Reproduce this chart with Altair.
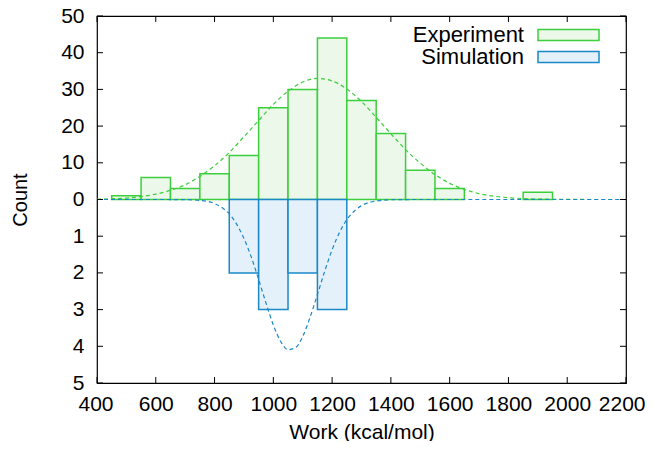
import altair as alt
import pandas as pd

# ---- data ----
exp_bin_start = [450, 550, 650, 750, 850, 950, 1050, 1150, 1250, 1350, 1450, 1550, 1850]
exp_counts = [1, 6, 3, 7, 12, 25, 30, 44, 27, 18, 8, 3, 2]

sim_bin_start = [850, 950, 1050, 1150]
sim_counts = [2, 3, 2, 3]
bin_width = 100

exp_fit_x = [400, 450, 500, 550, 600, 650, 700, 750, 800, 850, 900, 950, 1000, 1050,
             1100, 1150, 1200, 1250, 1300, 1350, 1400, 1450, 1500, 1550, 1600, 1650,
             1700, 1750, 1800, 1850, 1900, 1950, 2000, 2050, 2100, 2150, 2200]
exp_fit_y = [0.1, 0.2, 0.4, 0.8, 1.45, 2.5, 4.0, 6.3, 9.2, 12.8, 17.1, 21.5, 25.9, 29.5,
             32.0, 33.0, 32.3, 30.1, 26.7, 22.4, 17.9, 13.6, 9.9, 6.8, 4.4, 2.75,
             1.6, 0.9, 0.5, 0.25, 0.12, 0.05, 0.02, 0.01, 0.0, 0.0, 0.0]

sim_fit_x = [400, 500, 600, 700, 750, 800, 825, 850, 875, 900, 925, 950, 975, 1000,
             1025, 1050, 1075, 1100, 1125, 1150, 1175, 1200, 1225, 1250, 1275, 1300,
             1350, 1400, 1500, 1600, 1800, 2000, 2200]
sim_fit_y = [0.0, 0.0, 0.0, 0.004, 0.024, 0.11, 0.22, 0.39, 0.67, 1.06, 1.57, 2.18, 2.82, 3.42,
             3.87, 4.09, 4.04, 3.73, 3.21, 2.59, 1.95, 1.37, 0.90, 0.55, 0.32, 0.17,
             0.04, 0.007, 0.0, 0.0, 0.0, 0.0, 0.0]

x_ticks = [400, 600, 800, 1000, 1200, 1400, 1600, 1800, 2000, 2200]
y_ticks = [-5, -4, -3, -2, -1, 0, 1, 2, 3, 4, 5]  # top half = Experiment/10, bottom = Simulation

legend_labels = ["Experiment", "Simulation"]

# ---- styles ----
GREEN = "#3ccf3c"
GREEN_FILL = "#ebf8ea"
BLUE = "#1b88c8"
BLUE_FILL = "#e4f1fa"
FONT = "Liberation Sans"
FS = 22
W, H = 529, 367

exp_df = pd.DataFrame({"x0": exp_bin_start,
                       "x1": [s + bin_width for s in exp_bin_start],
                       "y": [c / 10 for c in exp_counts]})
sim_df = pd.DataFrame({"x0": sim_bin_start,
                       "x1": [s + bin_width for s in sim_bin_start],
                       "y": [-c for c in sim_counts]})
exp_fit = pd.DataFrame({"x": exp_fit_x, "y": [v / 10 for v in exp_fit_y]})
sim_fit = pd.DataFrame({"x": sim_fit_x, "y": [-v for v in sim_fit_y]})

xs = alt.Scale(domain=[400, 2200], nice=False, zero=False)
ys = alt.Scale(domain=[-5, 5], nice=False)

x_axis = alt.Axis(values=x_ticks, ticks=False, domain=False, grid=False, format="d",
                  labelFontSize=21, labelPadding=10, labelColor="#000", labelOverlap=False,
                  labelFlush=True, labelFlushOffset=19,
                  title="Work (kcal/mol)", titleFontSize=21, titleFontWeight="normal",
                  titlePadding=7, titleColor="#000")
y_axis = alt.Axis(values=y_ticks, ticks=False, domain=False, grid=False, labelOverlap=False,
                  labelExpr="datum.value >= 0 ? format(datum.value * 10, 'd') : format(-datum.value, 'd')",
                  labelFontSize=21, labelPadding=13, labelColor="#000",
                  title="Count", titleFontSize=20, titleFontWeight="normal",
                  titlePadding=30, titleColor="#000")

X = lambda f: alt.X(f, scale=xs, axis=x_axis)
Y = lambda f: alt.Y(f, scale=ys, axis=y_axis)

exp_bars = alt.Chart(exp_df).mark_rect(fill=GREEN_FILL, stroke=GREEN, strokeWidth=1.5).encode(
    x=X("x0:Q"), x2="x1", y=Y("y:Q"), y2=alt.datum(0))
sim_bars = alt.Chart(sim_df).mark_rect(fill=BLUE_FILL, stroke=BLUE, strokeWidth=1.5).encode(
    x=X("x0:Q"), x2="x1", y=Y("y:Q"), y2=alt.datum(0))

exp_line = alt.Chart(exp_fit).mark_line(color=GREEN, strokeWidth=1.2, strokeDash=[4, 3],
                                         interpolate="monotone").encode(x=X("x:Q"), y=Y("y:Q"))
sim_line = alt.Chart(sim_fit).mark_line(color=BLUE, strokeWidth=1.2, strokeDash=[4, 3],
                                         interpolate="monotone").encode(x=X("x:Q"), y=Y("y:Q"))

xt = pd.DataFrame({"t": x_ticks})
yt = pd.DataFrame({"t": y_ticks})
tick_top = alt.Chart(xt).mark_rule(color="#000", strokeWidth=1).encode(
    x=X("t:Q"), y=alt.value(0), y2=alt.value(6))
tick_bot = alt.Chart(xt).mark_rule(color="#000", strokeWidth=1).encode(
    x=X("t:Q"), y=alt.value(H), y2=alt.value(H - 6))
tick_left = alt.Chart(yt).mark_rule(color="#000", strokeWidth=1).encode(
    y=Y("t:Q"), x=alt.value(0), x2=alt.value(6))
tick_right = alt.Chart(yt).mark_rule(color="#000", strokeWidth=1).encode(
    y=Y("t:Q"), x=alt.value(W), x2=alt.value(W - 6))


def legend_item(label, row, fill, stroke):
    d = pd.DataFrame({"label": [label]})
    yc = 19 + 22 * row
    txt = alt.Chart(d).mark_text(align="right", baseline="middle", fontSize=FS, font=FONT,
                                 color="#000").encode(
        text="label:N", x=alt.value(427), y=alt.value(yc))
    box = alt.Chart(d).mark_rect(fill=fill, stroke=stroke, strokeWidth=1.5).encode(
        x=alt.value(441), x2=alt.value(502), y=alt.value(yc - 5.5), y2=alt.value(yc + 5.5))
    return [txt, box]


legend_layers = (legend_item(legend_labels[0], 0, GREEN_FILL, GREEN)
                 + legend_item(legend_labels[1], 1, BLUE_FILL, BLUE))

chart = alt.layer(
    exp_bars, sim_bars, exp_line, sim_line,
    tick_top, tick_bot, tick_left, tick_right,
    *legend_layers,
).properties(
    width=W, height=H,
    autosize=alt.AutoSizeParams(type="none"),
    padding={"left": 89, "top": 8, "right": 20, "bottom": 58},
).configure(font=FONT).configure_view(stroke="#000", strokeWidth=1.2)

chart.save("out.html", embed_options={"renderer": "svg", "actions": False})
